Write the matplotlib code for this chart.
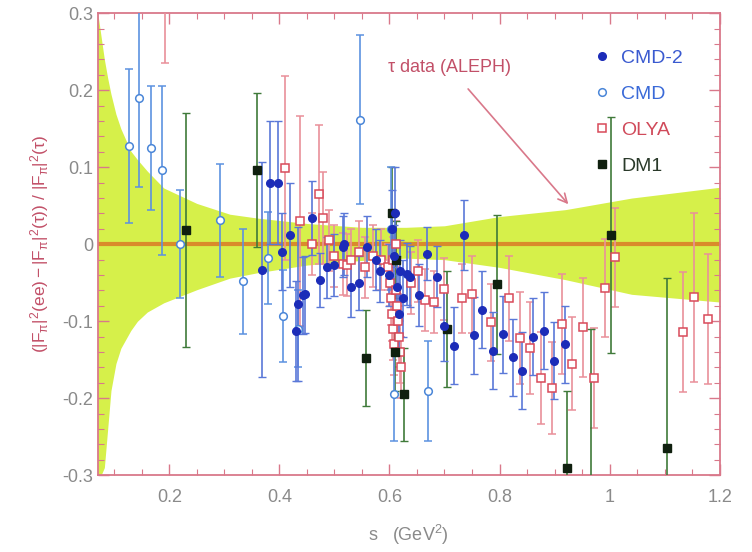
import numpy as np
import matplotlib
matplotlib.use('Agg')
import matplotlib.pyplot as plt

plt.rcParams['font.family'] = ['Liberation Sans', 'DejaVu Sans']
plt.rcParams['mathtext.fontset'] = 'custom'
plt.rcParams['mathtext.rm'] = 'Liberation Sans'
plt.rcParams['mathtext.it'] = 'Liberation Sans'

# tau band (ALEPH)
band_s = [0.07, 0.076, 0.082, 0.088, 0.094, 0.103, 0.112, 0.13, 0.142, 0.16, 0.19,
          0.25, 0.31, 0.36, 0.45, 0.55, 0.63, 0.70, 0.80, 0.92, 1.04, 1.2]
band_up = [0.30, 0.27, 0.24, 0.216, 0.195, 0.169, 0.150, 0.121, 0.110, 0.095, 0.073,
           0.053, 0.039, 0.034, 0.027, 0.022, 0.022, 0.024, 0.036, 0.045, 0.06, 0.074]
band_lo = [-0.30, -0.30, -0.29, -0.24, -0.19, -0.155, -0.135, -0.112, -0.10, -0.088, -0.076,
           -0.059, -0.044, -0.037, -0.027, -0.021, -0.018, -0.02, -0.03, -0.046, -0.065, -0.075]

# CMD-2
cmd2_s = [0.369, 0.383, 0.397, 0.405, 0.420, 0.431, 0.434, 0.443, 0.447, 0.459,
          0.474, 0.486, 0.500, 0.515, 0.517, 0.530, 0.545, 0.560, 0.575, 0.582,
          0.600, 0.604, 0.608, 0.610, 0.614, 0.618, 0.620, 0.624, 0.632, 0.638,
          0.654, 0.668, 0.686, 0.700, 0.717, 0.735, 0.753, 0.769, 0.789, 0.807,
          0.825, 0.841, 0.861, 0.881, 0.899, 0.919]
cmd2_y = [-0.033, 0.080, 0.080, -0.010, 0.012, -0.113, -0.077, -0.066, -0.065, 0.034,
          -0.046, -0.030, -0.027, -0.003, 0.000, -0.055, -0.050, -0.003, -0.020, -0.035,
          -0.040, 0.020, -0.015, 0.040, -0.055, -0.090, -0.035, -0.070, -0.039, -0.042,
          -0.066, -0.012, -0.042, -0.106, -0.132, 0.012, -0.118, -0.085, -0.138, -0.117,
          -0.147, -0.164, -0.120, -0.112, -0.151, -0.130]
cmd2_err = [0.14, 0.08, 0.08, 0.05, 0.068, 0.065, 0.10, 0.05, 0.05, 0.048,
            0.035, 0.04, 0.04, 0.04, 0.04, 0.04, 0.035, 0.04, 0.04, 0.04,
            0.04, 0.05, 0.04, 0.06, 0.04, 0.05, 0.04, 0.05, 0.04, 0.04,
            0.04, 0.035, 0.04, 0.045, 0.05, 0.046, 0.05, 0.05, 0.05, 0.05,
            0.05, 0.05, 0.05, 0.05, 0.05, 0.05]

# CMD
cmd_s = [0.127, 0.145, 0.166, 0.186, 0.220, 0.292, 0.333, 0.380, 0.407, 0.433,
         0.546, 0.603, 0.609, 0.670]
cmd_y = [0.127, 0.190, 0.125, 0.096, 0.000, 0.031, -0.048, -0.018, -0.093, -0.110,
         0.162, 0.020, -0.195, -0.190]
cmd_err = [0.100, 0.115, 0.080, 0.110, 0.070, 0.073, 0.068, 0.060, 0.060, 0.050,
           0.110, 0.080, 0.060, 0.065]

# OLYA
olya_s = [0.193, 0.411, 0.438, 0.460, 0.472, 0.480, 0.490, 0.500, 0.515, 0.523,
          0.530, 0.545, 0.555, 0.570, 0.585, 0.598, 0.601, 0.603, 0.605, 0.606,
          0.607, 0.609, 0.611, 0.612, 0.613, 0.615, 0.617, 0.619, 0.621, 0.640,
          0.652, 0.665, 0.681, 0.699, 0.731, 0.750, 0.784, 0.818, 0.838, 0.856,
          0.876, 0.896, 0.914, 0.932, 0.951, 0.971, 0.991, 1.009, 1.133, 1.153,
          1.178]
olya_y = [0.40, 0.099, 0.030, 0.000, 0.065, 0.034, 0.005, -0.015, -0.026, -0.027,
          -0.020, -0.010, -0.030, -0.015, -0.020, -0.030, -0.050, -0.070, -0.090, -0.020,
          -0.110, -0.130, -0.060, 0.000, -0.080, -0.100, -0.120, -0.140, -0.160, -0.050,
          -0.035, -0.072, -0.075, -0.058, -0.070, -0.065, -0.101, -0.070, -0.122, -0.135,
          -0.174, -0.187, -0.103, -0.155, -0.108, -0.174, -0.057, -0.017, -0.114, -0.069,
          -0.097]
olya_err = [0.165, 0.12, 0.136, 0.04, 0.09, 0.06, 0.04, 0.04, 0.04, 0.04,
            0.04, 0.04, 0.04, 0.04, 0.04, 0.03, 0.03, 0.035, 0.035, 0.03,
            0.04, 0.04, 0.03, 0.03, 0.03, 0.035, 0.04, 0.04, 0.04, 0.04,
            0.04, 0.04, 0.04, 0.04, 0.045, 0.05, 0.05, 0.055, 0.06, 0.06,
            0.06, 0.06, 0.065, 0.06, 0.064, 0.065, 0.064, 0.064, 0.078, 0.11,
            0.085]

# DM1
dm1_s = [0.230, 0.360, 0.558, 0.605, 0.610, 0.612, 0.627, 0.705, 0.795, 0.922,
         0.966, 1.002, 1.104]
dm1_y = [0.018, 0.096, -0.148, 0.040, -0.140, -0.020, -0.195, -0.110, -0.052, -0.291,
         -0.330, 0.012, -0.264]
dm1_err = [0.152, 0.100, 0.062, 0.060, 0.050, 0.050, 0.060, 0.075, 0.090, 0.100,
           0.220, 0.153, 0.220]

spine_col = '#d9788a'
grey = '#8a8a8a'

fig = plt.figure(figsize=(7.52, 5.52), dpi=100)
ax = fig.add_axes([0.130, 0.139, 0.827, 0.837])

ax.fill_between(band_s, band_lo, band_up, color='#d6f04a', lw=0, zorder=1)
ax.axhline(0, color='#d98b2b', lw=3, zorder=2)

common = dict(ls='none', capsize=3, elinewidth=1.2, capthick=1.0, zorder=3)
ax.errorbar(olya_s, olya_y, yerr=olya_err, fmt='s', ms=5.5, mfc='white', mec='#d84a5a',
            mew=1.1, ecolor='#e9909a', label='OLYA', **common)
ax.errorbar(dm1_s, dm1_y, yerr=dm1_err, fmt='s', ms=5.5, mfc='#10200f', mec='#10200f',
            ecolor='#3f7a3a', label='DM1', **common)
ax.errorbar(cmd_s, cmd_y, yerr=cmd_err, fmt='o', ms=5.5, mfc='white', mec='#4a86d8',
            mew=1.1, ecolor='#5c92e0', label='CMD', **common)
ax.errorbar(cmd2_s, cmd2_y, yerr=cmd2_err, fmt='o', ms=5.5, mfc='#1c2cb8', mec='#1c2cb8',
            ecolor='#5a78d8', label='CMD-2', **common)

ax.annotate(r'$\tau$ data (ALEPH)', xy=(0.925, 0.052), xytext=(0.596, 0.224),
            color='#c25068', fontsize=13,
            arrowprops=dict(arrowstyle='->', color='#d9788a', lw=1.2, mutation_scale=16,
                            shrinkA=8, shrinkB=0))

ax.set_xlim(0.07, 1.195)
ax.set_ylim(-0.3, 0.3)
ax.set_xticks([0.2, 0.4, 0.6, 0.8, 1.0, 1.2])
ax.set_xticklabels(['0.2', '0.4', '0.6', '0.8', '1', '1.2'])
ax.set_xticks(np.arange(0.1, 1.2, 0.05), minor=True)
ax.set_yticks([-0.3, -0.2, -0.1, 0, 0.1, 0.2, 0.3])
ax.set_yticklabels(['-0.3', '-0.2', '-0.1', '0', '0.1', '0.2', '0.3'])
ax.set_yticks(np.arange(-0.3, 0.301, 0.02), minor=True)
ax.tick_params(which='both', direction='in', top=True, right=True, color=spine_col,
               labelcolor=grey, labelsize=13)
ax.tick_params(which='major', length=8, width=1)
ax.tick_params(which='minor', length=4, width=0.8)
ax.tick_params(axis='x', pad=10)
for sp in ax.spines.values():
    sp.set_color(spine_col)
    sp.set_linewidth(1.3)

ax.set_xlabel(r's   (GeV$^2$)', color=grey, fontsize=13, labelpad=12)
ax.set_ylabel(r'$(|F_{\pi}|^2(ee) - |F_{\pi}|^2(\tau))\ /\ |F_{\pi}|^2(\tau)$',
              color='#c25068', fontsize=12.5, labelpad=8)

handles, labels = ax.get_legend_handles_labels()
order = ['CMD-2', 'CMD', 'OLYA', 'DM1']
hmap = dict(zip(labels, handles))
leg = ax.legend([hmap[k][0] for k in order], order, loc='upper left',
                bbox_to_anchor=(0.77, 0.96), frameon=False, fontsize=14,
                handlelength=0.8, handletextpad=0.6, labelspacing=0.95, markerscale=1.0)
for t, c in zip(leg.get_texts(), ['#3a5ad0', '#3a6ad8', '#d04a5a', '#2a3a2a']):
    t.set_color(c)

plt.savefig('out.png', dpi=100)
